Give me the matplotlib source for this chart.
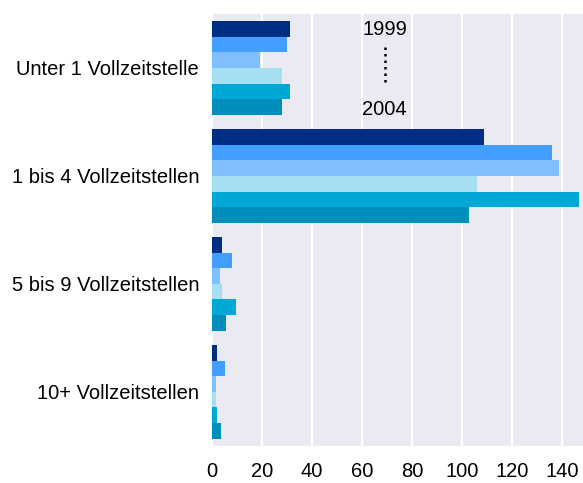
import numpy as np
import matplotlib.pyplot as plt

# Daten
kategorien = ["Unter 1 Vollzeitstelle", "1 bis 4 Vollzeitstellen",
              "5 bis 9 Vollzeitstellen", "10+ Vollzeitstellen"]
jahre = ["1999", "2000", "2001", "2002", "2003", "2004"]
w1999 = [31, 109, 4, 2]
w2000 = [30, 136, 8, 5]
w2001 = [19, 139, 3, 1.4]
w2002 = [28, 106, 4, 1.4]
w2003 = [31, 147, 9.5, 2]
w2004 = [28, 103, 5.5, 3.5]
werte = [w1999, w2000, w2001, w2002, w2003, w2004]
farben = ["#002E83", "#429EFF", "#80BFFF", "#A6DEF2", "#00A8D5", "#008FBA"]

plt.rcParams['font.family'] = ['Liberation Sans', 'DejaVu Sans']

fig = plt.figure(figsize=(5.83, 4.83), dpi=100)
ax = fig.add_axes([0.364, 0.077, 0.636, 0.894])
ax.set_facecolor('#EAEAF2')

y = np.arange(len(kategorien))
h = 0.1445
for j, (w, c) in enumerate(zip(werte, farben)):
    ax.barh(y + (j - 2.5) * h, w, height=h, color=c, label=jahre[j], zorder=2)

ax.set_xlim(0, 148.5)
ax.set_ylim(3.5, -0.5)
ax.set_yticks(y)
ax.set_yticklabels(kategorien, fontsize=14.5)
ax.set_xticks(np.arange(0, 141, 20))
ax.tick_params(axis='x', labelsize=14.5, length=0, pad=12)
ax.tick_params(axis='y', length=0, pad=9.5)
ax.grid(axis='x', color='white', linewidth=1.5, zorder=1)
ax.set_axisbelow(True)
for s in ax.spines.values():
    s.set_visible(False)

# Legende als Text
ax.text(69, -0.36, "1999", ha='center', va='center', fontsize=14.5)
ax.text(69, 0.38, "2004", ha='center', va='center', fontsize=14.5)
ax.plot([69.3, 69.3], [-0.19, 0.17], color='black', linestyle=(0, (1, 1.6)),
        linewidth=1.8, zorder=3)

plt.savefig("out.png", dpi=100)
